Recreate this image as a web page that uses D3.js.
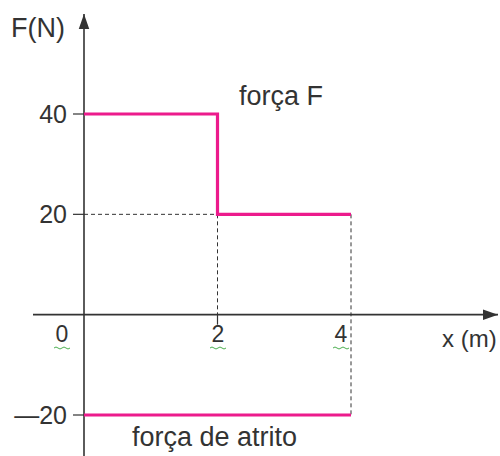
<!DOCTYPE html>
<html>
<head>
<meta charset="utf-8">
<script src="https://cdn.jsdelivr.net/npm/d3@7"></script>
<style>
  body { margin: 0; background: #fff; }
  text { font-family: 'Liberation Sans', Arial, sans-serif; fill: #333; }
</style>
</head>
<body>
<div id="chart"></div>
<script>
// data
const forceF = [[0, 40], [2, 40], [2, 20], [4, 20]]
const friction = [[0, -20], [4, -20]]
const yTicks = [40, 20, -20]
const xTicks = [0, 2, 4]

const width = 500
const height = 456

const svg = d3.select('#chart').append('svg')
  .attr('width', width)
  .attr('height', height)

const x = d3.scaleLinear().domain([0, 4]).range([84, 351])
const y = d3.scaleLinear().domain([-20, 40]).range([415, 114])

const pink = '#ec1b8c'
const ink = '#333'

svg.append('defs').append('marker')
  .attr('id', 'arrow')
  .attr('viewBox', '0 0 10 10')
  .attr('refX', 10).attr('refY', 5)
  .attr('markerWidth', 15).attr('markerHeight', 15)
  .attr('markerUnits', 'userSpaceOnUse')
  .attr('orient', 'auto')
  .append('path')
  .attr('d', 'M0,1.5 L10,5 L0,8.5 Z')
  .attr('fill', ink)

// dashed guides
const dashed = [
  [[0, 20], [2, 20]],
  [[2, 20], [2, 0]],
  [[4, 20], [4, -20]]
]
svg.selectAll('.guide')
  .data(dashed)
  .enter()
  .append('line')
  .attr('class', 'guide')
  .attr('x1', d => x(d[0][0]))
  .attr('y1', d => y(d[0][1]))
  .attr('x2', d => x(d[1][0]))
  .attr('y2', d => y(d[1][1]))
  .attr('stroke', ink)
  .attr('stroke-width', 1)
  .attr('stroke-dasharray', '4,3')

// axes
svg.append('line')
  .attr('x1', 33).attr('y1', y(0))
  .attr('x2', 498).attr('y2', y(0))
  .attr('stroke', ink).attr('stroke-width', 1.6)
  .attr('marker-end', 'url(#arrow)')

svg.append('line')
  .attr('x1', x(0)).attr('y1', height)
  .attr('x2', x(0)).attr('y2', 14)
  .attr('stroke', ink).attr('stroke-width', 1.6)
  .attr('marker-end', 'url(#arrow)')

// y ticks
svg.selectAll('.ytick')
  .data(yTicks)
  .enter()
  .append('line')
  .attr('x1', x(0) - 11).attr('x2', x(0))
  .attr('y1', d => y(d)).attr('y2', d => y(d))
  .attr('stroke', ink).attr('stroke-width', 1.2)

svg.selectAll('.ylabel')
  .data(yTicks)
  .enter()
  .append('text')
  .attr('x', 67)
  .attr('y', d => y(d) + 9)
  .attr('text-anchor', 'end')
  .attr('font-size', 25)
  .text(d => d < 0 ? '\u2014' + Math.abs(d) : d)

// x tick at 2
svg.append('line')
  .attr('x1', x(2)).attr('x2', x(2))
  .attr('y1', y(0)).attr('y2', y(0) + 10)
  .attr('stroke', ink).attr('stroke-width', 1.2)

const xLabelPos = { 0: 62, 2: 218, 4: 341 }
svg.selectAll('.xlabel')
  .data(xTicks)
  .enter()
  .append('text')
  .attr('x', d => xLabelPos[d])
  .attr('y', 342)
  .attr('text-anchor', 'middle')
  .attr('font-size', 23)
  .text(d => d)

// squiggly underlines
svg.selectAll('.squig')
  .data(xTicks)
  .enter()
  .append('path')
  .attr('d', d => {
    let x0 = xLabelPos[d] - 8
    let s = `M${x0},348`
    for (let i = 0; i < 4; i++) {
      s += ` q2,${i % 2 ? 2 : -2} 4,0`
    }
    return s
  })
  .attr('fill', 'none')
  .attr('stroke', '#4caf50')
  .attr('stroke-width', 1)

// force lines
const line = d3.line().x(d => x(d[0])).y(d => y(d[1]))

svg.append('path')
  .datum(forceF)
  .attr('d', line)
  .attr('fill', 'none')
  .attr('stroke', pink)
  .attr('stroke-width', 3.2)

svg.append('path')
  .datum(friction)
  .attr('d', line)
  .attr('fill', 'none')
  .attr('stroke', pink)
  .attr('stroke-width', 3.2)

// labels
svg.append('text').attr('x', 11).attr('y', 37).attr('font-size', 27).text('F(N)')
svg.append('text').attr('x', 442).attr('y', 347).attr('font-size', 24).text('x (m)')
svg.append('text').attr('x', 239).attr('y', 105).attr('font-size', 27).text('força F')
svg.append('text').attr('x', 132).attr('y', 446).attr('font-size', 27).text('força de atrito')
</script>
</body>
</html>
